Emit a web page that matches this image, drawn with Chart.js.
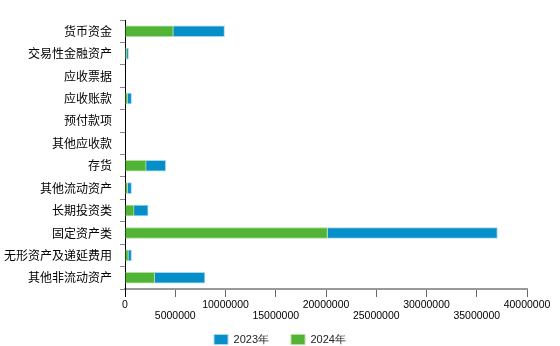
<!DOCTYPE html>
<html>
<head>
<meta charset="utf-8">
<script src="https://cdn.jsdelivr.net/npm/chart.js@4.4.0/dist/chart.umd.min.js"></script>
<style>
  html, body { margin: 0; padding: 0; background: #ffffff; }
  #wrap { width: 560px; height: 346px; position: relative; }
</style>
</head>
<body>
<div id="wrap"><canvas id="c" width="560" height="346"></canvas></div>
<script>
const categories = ['货币资金', '交易性金融资产', '应收票据', '应收账款', '预付款项', '其他应收款', '存货', '其他流动资产', '长期投资类', '固定资产类', '无形资产及递延费用', '其他非流动资产'];
const values2024 = [4800000, 150000, 0, 250000, 0, 0, 2100000, 250000, 900000, 20150000, 330000, 2950000];
const values2023 = [5100000, 200000, 0, 400000, 0, 0, 1950000, 400000, 1400000, 16900000, 320000, 5000000];
const seriesNames = ['2024年', '2023年'];
const xTickMax = 40000000;
const xTickStep = 5000000;

const legendNudge = {
  id: 'legendNudge',
  afterLayout(chart) {
    const lg = chart.legend;
    if (lg) {
      // place legend row so its text sits 6px above the canvas bottom
      const padding = lg.options.labels.padding;
      const target = chart.height - 6.5;
      const itemH = Math.max(lg.options.labels.font.size || 11, lg.options.labels.boxHeight);
      lg.top = target - padding - itemH / 2;
    }
  }
};

const ctx = document.getElementById('c').getContext('2d');
new Chart(ctx, {
  type: 'bar',
  data: {
    labels: categories,
    datasets: [
      { label: seriesNames[0], data: values2024, backgroundColor: '#52b435', borderColor: '#b2dca2', borderWidth: 1, barThickness: 11 },
      { label: seriesNames[1], data: values2023, backgroundColor: '#068ec9', borderColor: '#a4d6ee', borderWidth: 1, barThickness: 11 }
    ]
  },
  plugins: [legendNudge],
  options: {
    indexAxis: 'y',
    responsive: false,
    animation: false,
    devicePixelRatio: 1,
    layout: { padding: { top: 20, right: 0, left: 0, bottom: 0 } },
    plugins: {
      tooltip: { enabled: false },
      legend: {
        position: 'bottom',
        reverse: true,
        maxHeight: 22,
        labels: {
          boxWidth: 14, boxHeight: 10, padding: 22,
          color: '#222',
          font: { family: 'Liberation Sans, Arial, sans-serif', size: 11 }
        }
      }
    },
    scales: {
      x: {
        stacked: true,
        min: 0, max: xTickMax,
        border: { display: true, color: '#999999', width: 2 },
        grid: { drawOnChartArea: false, drawTicks: true, tickLength: 8, color: (c) => c.index === 0 ? '#000000' : '#666666', lineWidth: 1 },
        ticks: {
          stepSize: xTickStep,
          autoSkip: false,
          maxRotation: 0,
          padding: 3,
          color: '#000',
          font: { family: 'Liberation Sans, Arial, sans-serif', size: 10.5, lineHeight: 1.0 },
          callback: function(v, i) { return i % 2 === 1 ? ['', String(v)] : String(v); }
        }
      },
      y: {
        stacked: true,
        afterFit: (s) => { s.width = 125; },
        border: { display: true, color: '#000000', width: 1 },
        grid: { drawOnChartArea: false, drawTicks: true, tickLength: 5, color: '#888888', offset: true },
        ticks: {
          padding: 8,
          color: '#000',
          font: { family: 'Noto Sans CJK SC, sans-serif', size: 12 }
        }
      },
      yR: {
        type: 'linear',
        position: 'right',
        display: true,
        afterFit: (s) => { s.width = 33; },
        border: { display: false },
        grid: { display: false, drawTicks: false },
        ticks: { display: false }
      }
    }
  }
});
</script>
</body>
</html>
